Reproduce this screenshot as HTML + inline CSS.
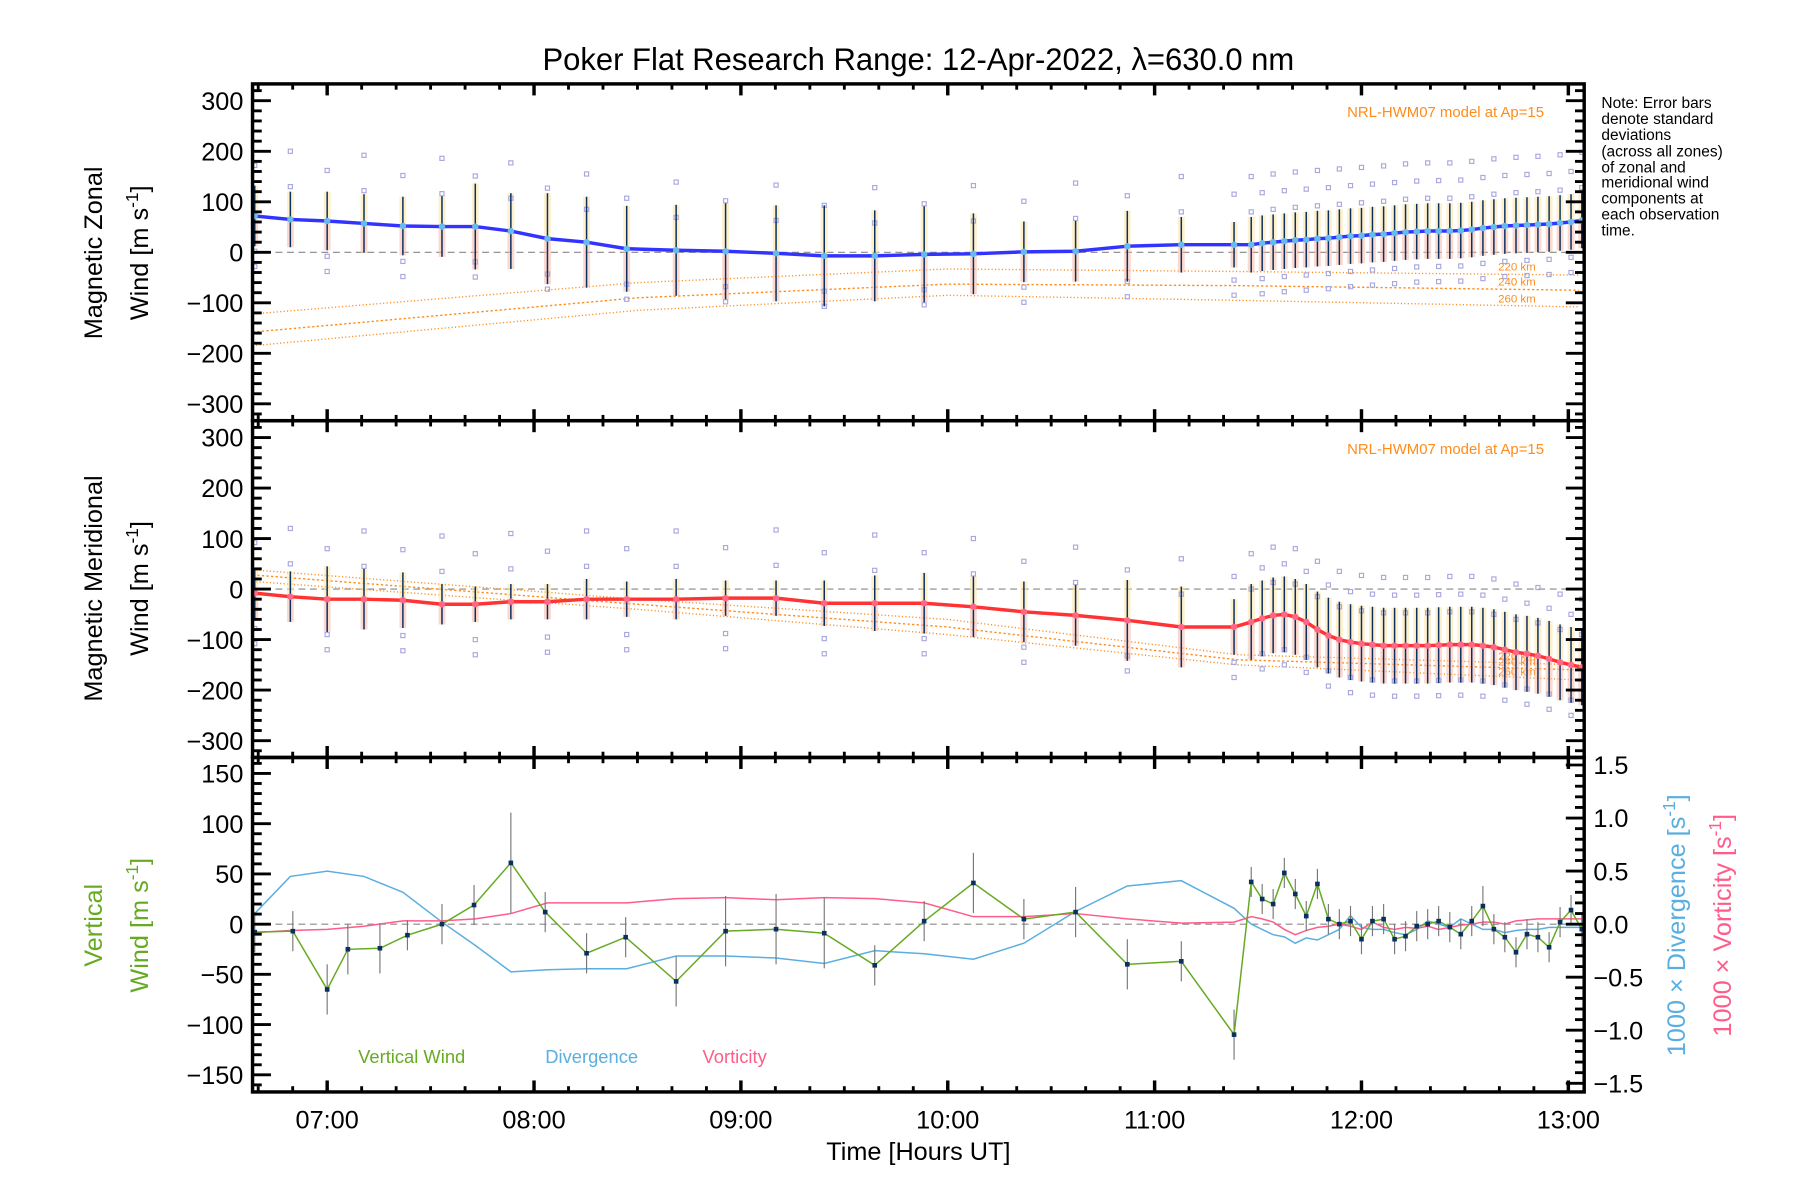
<!DOCTYPE html>
<html><head><meta charset="utf-8">
<style>
html,body{margin:0;padding:0;background:#fff;}
svg{display:block;font-family:"Liberation Sans",sans-serif;}
</style></head>
<body>
<svg id="chart" width="1800" height="1200" viewBox="0 0 1568 1044" preserveAspectRatio="none" xmlns="http://www.w3.org/2000/svg">
<rect x="0" y="0" width="1568" height="1044" fill="#fff"/>
<text x="800" y="61" font-size="27" text-anchor="middle">Poker Flat Research Range: 12-Apr-2022, λ=630.0 nm</text>
<g id="layer"></g>
<text x="1345" y="102" font-size="13" fill="#ff8c1a" text-anchor="end">NRL-HWM07 model at Ap=15</text>
<text x="1345" y="395" font-size="13" fill="#ff8c1a" text-anchor="end">NRL-HWM07 model at Ap=15</text>
<g font-size="13.5">
<text x="1395" y="94">Note: Error bars</text>
<text x="1395" y="108">denote standard</text>
<text x="1395" y="122">deviations</text>
<text x="1395" y="136">(across all zones)</text>
<text x="1395" y="150">of zonal and</text>
<text x="1395" y="163">meridional wind</text>
<text x="1395" y="177">components at</text>
<text x="1395" y="191">each observation</text>
<text x="1395" y="205">time.</text>
</g>
<text transform="translate(89,220) rotate(-90)" font-size="22" text-anchor="middle">Magnetic Zonal</text>
<text transform="translate(129,220) rotate(-90)" font-size="22" text-anchor="middle">Wind [m s<tspan dy="-9" font-size="15">-1</tspan><tspan dy="9">]</tspan></text>
<text transform="translate(89,512) rotate(-90)" font-size="22" text-anchor="middle">Magnetic Meridional</text>
<text transform="translate(129,512) rotate(-90)" font-size="22" text-anchor="middle">Wind [m s<tspan dy="-9" font-size="15">-1</tspan><tspan dy="9">]</tspan></text>
<text transform="translate(89,805) rotate(-90)" font-size="22" text-anchor="middle" fill="#66aa22">Vertical</text>
<text transform="translate(129,805) rotate(-90)" font-size="22" text-anchor="middle" fill="#66aa22">Wind [m s<tspan dy="-9" font-size="15">-1</tspan><tspan dy="9">]</tspan></text>
<text transform="translate(1468,805) rotate(-90)" font-size="22" text-anchor="middle" fill="#5aaee0">1000 × Divergence [s<tspan dy="-9" font-size="15">-1</tspan><tspan dy="9">]</tspan></text>
<text transform="translate(1508,805) rotate(-90)" font-size="22" text-anchor="middle" fill="#ff5c8a">1000 × Vorticity [s<tspan dy="-9" font-size="15">-1</tspan><tspan dy="9">]</tspan></text>
<text x="312" y="925" font-size="16" fill="#66aa22">Vertical Wind</text>
<text x="475" y="925" font-size="16" fill="#5aaee0">Divergence</text>
<text x="612" y="925" font-size="16" fill="#ff5c8a">Vorticity</text>
<text x="800" y="1009" font-size="22" text-anchor="middle">Time [Hours UT]</text>
</svg>
<script>
const times=[6.650,6.822,7.0,7.178,7.366,7.555,7.716,7.888,8.065,8.254,8.448,8.687,8.926,9.170,9.403,9.647,9.886,10.124,10.368,10.618,10.868,11.129,11.384,
11.467,11.52,11.573,11.627,11.68,11.733,11.787,11.84,11.893,11.947,12.0,12.053,12.107,12.16,12.213,12.267,12.32,12.373,12.427,12.48,12.533,12.587,12.64,12.693,12.747,12.8,12.853,12.907,12.96,13.013,13.065];
const zonal=[72,65,62,57,52,51,51,42,27,20,7,4,2,-2,-7,-7,-4,-3,1,2,12,15,15,
15,18,20,22,24,25,27,28,30,32,33,35,36,38,40,41,42,42,42,43,45,48,50,52,53,54,55,56,58,60,63];
const zonalErr=[60,55,58,58,58,60,85,75,90,90,85,90,95,95,100,90,95,80,60,60,70,55,45,
55,55,55,55,55,55,55,55,55,55,55,55,55,55,55,55,55,55,55,55,55,55,55,55,55,55,55,55,55,55,55];
const merid=[-8,-15,-20,-20,-22,-30,-30,-25,-25,-20,-20,-20,-18,-18,-28,-28,-28,-35,-45,-52,-62,-75,-75,
-65,-58,-52,-50,-55,-65,-80,-92,-100,-105,-108,-110,-112,-112,-112,-112,-112,-111,-110,-110,-110,-112,-115,-120,-125,-128,-132,-138,-145,-150,-155];
const meridErr=[50,50,65,60,55,40,35,35,35,40,35,40,35,35,45,55,60,60,60,60,80,80,55,
75,75,75,75,75,75,75,75,75,75,75,75,75,75,75,75,75,75,75,75,75,75,75,75,75,75,75,75,75,75,75];
const vtimes=[6.650,6.834,7.0,7.1,7.255,7.388,7.555,7.710,7.888,8.054,8.254,8.443,8.687,8.926,9.170,9.403,9.647,9.886,10.124,10.368,10.618,10.868,11.129,11.384,
11.467,11.52,11.573,11.627,11.68,11.733,11.787,11.84,11.893,11.947,12.0,12.053,12.107,12.16,12.213,12.267,12.32,12.373,12.427,12.48,12.533,12.587,12.64,12.693,12.747,12.8,12.853,12.907,12.96,13.013,13.065];
const vertical=[-8,-7,-65,-25,-24,-11,0,19,61,12,-29,-13,-57,-7,-5,-9,-41,3,41,5,12,-40,-37,-110,
42,25,20,51,30,8,40,5,0,3,-15,3,5,-15,-12,-2,0,3,-3,-10,3,18,-5,-13,-28,-10,-13,-23,2,14,-5];
const vertErr=[20,20,25,25,25,15,20,20,50,20,20,20,25,35,35,35,20,20,30,20,25,25,20,25,
15,15,15,15,15,15,15,15,15,15,15,15,15,15,15,15,15,15,15,15,15,20,15,15,15,15,15,15,15,15,15];
const divergence=[0.1,0.45,0.5,0.45,0.3,0.02,-0.2,-0.45,-0.43,-0.42,-0.42,-0.3,-0.3,-0.32,-0.37,-0.25,-0.28,-0.33,-0.18,0.12,0.36,0.41,0.15,
0.0,-0.05,-0.1,-0.12,-0.18,-0.13,-0.15,-0.1,-0.05,0.08,-0.03,-0.05,-0.05,-0.08,-0.1,-0.05,0.03,0.0,-0.03,0.05,0.0,-0.05,-0.05,-0.08,-0.06,-0.05,-0.05,-0.03,-0.03,-0.03,-0.03];
const vorticity=[-0.08,-0.06,-0.05,-0.02,0.03,0.03,0.05,0.1,0.2,0.2,0.2,0.24,0.25,0.23,0.25,0.24,0.2,0.07,0.07,0.1,0.05,0.01,0.02,
0.07,0.05,0.02,-0.05,-0.1,-0.06,-0.03,-0.02,0.0,-0.02,-0.05,0.02,-0.03,-0.05,-0.03,-0.04,-0.02,-0.05,-0.03,-0.01,0.0,0.02,0.02,0.0,0.03,0.04,0.05,0.05,0.05,0.05,0.05];
const modelTimes=[6.64,8.5,10.0,11.4,13.05];
const zonal220=[-122,-60,-33,-38,-45];
const zonal240=[-158,-90,-63,-66,-75];
const zonal260=[-185,-115,-85,-95,-108];
const merid220=[38,-20,-60,-130,-150];
const merid240=[28,-30,-75,-140,-160];
const merid260=[15,-40,-90,-150,-180];
const scatterOffsets=[-70,65,100,135,-100];
const hourTicks=[7,8,9,10,11,12,13];
const hourLabels=["07:00","08:00","09:00","10:00","11:00","12:00","13:00"];
const windTicks=[-300,-200,-100,0,100,200,300];
const vertTicks=[-150,-100,-50,0,50,100,150];
const rightTicks=[-1.5,-1.0,-0.5,0.0,0.5,1.0,1.5];

const NS="http://www.w3.org/2000/svg";
const layer=document.getElementById('layer');
const L=220,R=1380;
const panels=[{top:73,bot:366},{top:366,bot:659},{top:659,bot:950}];
function xs(h){return 285+(h-7)*180.2;}
function yw(p,v){const c=(panels[p].top+panels[p].bot)/2;return c-v*0.4395;}
function yv(v){return 804-v*0.874;}
function yr(v){return 804-v*92.3;}
function el(tag,attrs,parent){const e=document.createElementNS(NS,tag);for(const k in attrs)e.setAttribute(k,attrs[k]);(parent||layer).appendChild(e);return e;}
function poly(xsArr,ysArr,stroke,w,dash,name){
  const pts=xsArr.map((x,i)=>x.toFixed(1)+','+ysArr[i].toFixed(1)).join(' ');
  const e=el('polyline',{points:pts,fill:'none',stroke:stroke,'stroke-width':w});
  if(dash)e.setAttribute('stroke-dasharray',dash);
  
  
  return e;
}
[0,1].forEach(p=>{const z=el('line',{x1:L,x2:R,y1:yw(p,0),y2:yw(p,0),stroke:'#888','stroke-width':1,'stroke-dasharray':'6,4'});

});
const z3=el('line',{x1:L,x2:R,y1:yv(0),y2:yv(0),stroke:'#888','stroke-width':1,'stroke-dasharray':'6,4'});



function windPanel(p,vals,errs,m220,m240,m260,lineColor,dotColor,prefix){
  const g=el('g',{});
  
  
  [[m220,'220 km','1,2'],[m240,'240 km','2,2'],[m260,'260 km','1,2']].forEach(([arr,lab,d])=>{
    const ln=poly(modelTimes.map(xs),arr.map(v=>yw(p,v)),'#ff8c1a',1.2,d,prefix+'-model-line');
    g.appendChild(ln);
    const t=el('text',{x:1305,y:yw(p,arr[4])-4,'font-size':10,fill:'#ff8c1a'},g);
    t.textContent=lab;
    
    
  });
  times.forEach((t,i)=>{
    const x=xs(t),v=vals[i],e=errs[i];
    const b1=el('rect',{x:x-3,y:yw(p,v+e),width:6,height:yw(p,v)-yw(p,v+e),fill:'#fde3a0',opacity:0.55},g);
    
    
    const b2=el('rect',{x:x-3,y:yw(p,v),width:6,height:yw(p,v-e)-yw(p,v),fill:'#f9b9a8',opacity:0.55},g);
    
    
    scatterOffsets.forEach((o,k)=>{
      if((i+k)%2===0){const s=el('rect',{x:x-1.8,y:yw(p,v+o)-1.8,width:3.6,height:3.6,fill:'none',stroke:'#a8a8dd','stroke-width':1},g);
      
      }
    });
    const eb=el('line',{x1:x,x2:x,y1:yw(p,v+e),y2:yw(p,v-e),stroke:'#0b3060','stroke-width':1.3},g);
    
    
  });
  g.appendChild(poly(times.map(xs),vals.map(v=>yw(p,v)),lineColor,3,null,prefix+'-mean-line'));
  times.forEach((t,i)=>{const c=el('circle',{cx:xs(t),cy:yw(p,vals[i]),r:2.8,fill:dotColor},g);
  
  });
}
windPanel(0,zonal,zonalErr,zonal220,zonal240,zonal260,'#3333ff','#66bbee','zonal');
windPanel(1,merid,meridErr,merid220,merid240,merid260,'#ff3333','#ff6688','meridional');

poly(times.map(xs),divergence.map(yr),'#5aaee0',1.3,null,'divergence-line');
poly(times.map(xs),vorticity.map(yr),'#ff5c8a',1.3,null,'vorticity-line');
vtimes.forEach((t,i)=>{const e=el('line',{x1:xs(t),x2:xs(t),y1:yv(vertical[i]+vertErr[i]),y2:yv(vertical[i]-vertErr[i]),stroke:'#777','stroke-width':1});

});
poly(vtimes.map(xs),vertical.map(yv),'#66aa22',1.3,null,'vertical-wind-line');
vtimes.forEach((t,i)=>{const r=el('rect',{x:xs(t)-2,y:yv(vertical[i])-2,width:4,height:4,fill:'#0b3060'});

});

panels.forEach((pn,p)=>{
  const f=el('rect',{x:L,y:pn.top,width:R-L,height:pn.bot-pn.top,fill:'none',stroke:'#000','stroke-width':3});
  
  
  for(let m=6*60+40;m<=13*60+5;m+=10){
    const x=xs(m/60),maj=m%60===0,len=maj?10:5;
    el('line',{x1:x,x2:x,y1:pn.top,y2:pn.top+len,stroke:'#000','stroke-width':maj?3:2.5});
    el('line',{x1:x,x2:x,y1:pn.bot,y2:pn.bot-len,stroke:'#000','stroke-width':maj?3:2.5});
  }
  const rng=p<2?[-330,330,20,100]:[-165,165,10,50];
  const yf=p<2?(v=>yw(p,v)):yv;
  for(let v=Math.ceil(rng[0]/rng[2])*rng[2];v<=rng[1];v+=rng[2]){
    const maj=v%rng[3]===0,len=maj?16:8,y=yf(v);
    el('line',{x1:L,x2:L+len,y1:y,y2:y,stroke:'#000','stroke-width':2.5});
    if(p<2) el('line',{x1:R,x2:R-len,y1:y,y2:y,stroke:'#000','stroke-width':2.5});
  }
  const tks=p<2?windTicks:vertTicks;
  tks.forEach(v=>{const t=el('text',{x:212,y:yf(v)+8,'font-size':22,'text-anchor':'end'});
  t.textContent=(v<0?'−':'')+Math.abs(v);
  
  });
});
for(let v=-1.5;v<=1.501;v+=0.1){const y=yr(v),maj=Math.abs(Math.round(v*10)%5)===0;
  el('line',{x1:R,x2:R-(maj?16:8),y1:y,y2:y,stroke:'#000','stroke-width':2.5});}
rightTicks.forEach(v=>{const t=el('text',{x:1388,y:yr(v)+8,'font-size':22});
t.textContent=(v<0?'−':'')+Math.abs(v).toFixed(1);

});
hourTicks.forEach((h,i)=>{const t=el('text',{x:xs(h),y:982,'font-size':22,'text-anchor':'middle'});
t.textContent=hourLabels[i];

});
</script>
</body></html>
